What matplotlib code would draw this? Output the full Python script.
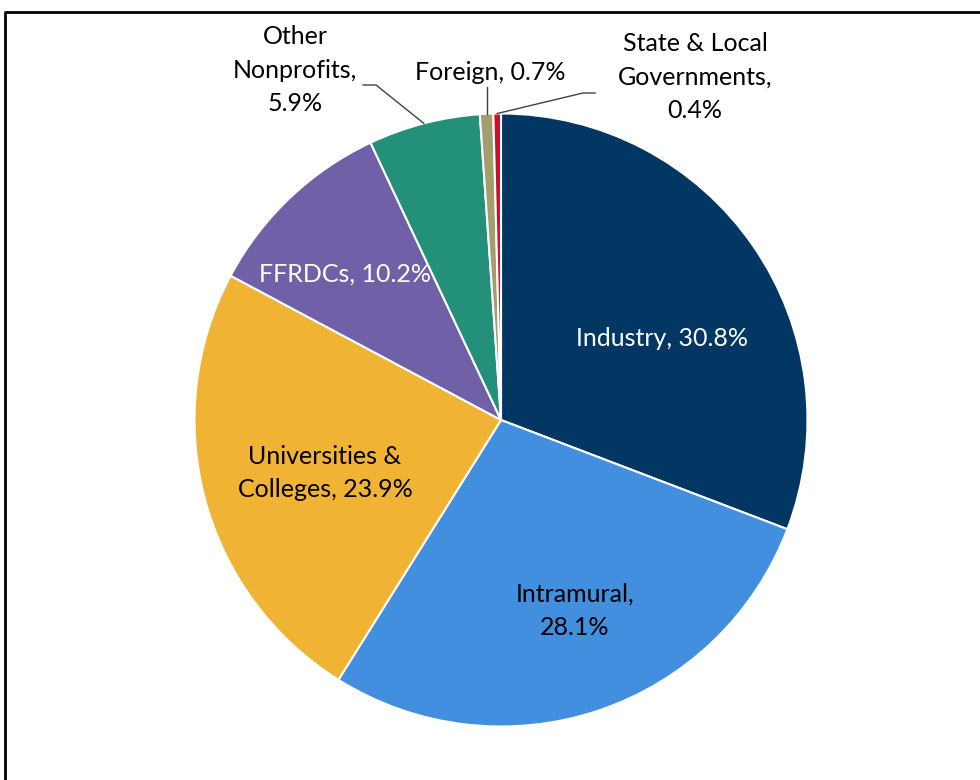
import matplotlib.pyplot as plt
import numpy as np

labels = ['Industry', 'Intramural', 'Universities & Colleges', 'FFRDCs',
          'Other Nonprofits', 'Foreign', 'State & Local Governments']
shares = [30.8, 28.1, 23.9, 10.2, 5.9, 0.7, 0.4]
colors = ['#023764', '#418FDE', '#F0B334', '#7060A8', '#23907A', '#A39E6E', '#C8102E']

plt.rcParams['font.family'] = ['Lato', 'DejaVu Sans']

fig = plt.figure(figsize=(9.8, 7.8), dpi=100)
ax = fig.add_axes([0, 0, 1, 1])

cx, cy, r = 501, 360, 306.5
ax.pie(shares, colors=colors, startangle=90, counterclock=False,
       center=(cx, cy), radius=r, frame=True,
       wedgeprops=dict(edgecolor='white', linewidth=1.5))
ax.set_xlim(0, 980)
ax.set_ylim(0, 780)
ax.set_aspect('equal')
ax.axis('off')

fs = 18
ls = 1.55
ax.text(662, 780 - 338, 'Industry, 30.8%', color='white', fontsize=fs, ha='center', va='center')
ax.text(575, 780 - 611, 'Intramural,\n28.1%', color='black', fontsize=fs, ha='center', va='center',
        linespacing=ls)
ax.text(325, 780 - 473, 'Universities &\nColleges, 23.9%', color='black', fontsize=fs, ha='center',
        va='center', linespacing=ls)
ax.text(345, 780 - 274, 'FFRDCs, 10.2%', color='white', fontsize=fs, ha='center', va='center')
ax.text(295, 780 - 70, 'Other\nNonprofits,\n5.9%', color='black', fontsize=fs, ha='center',
        va='center', linespacing=ls)
ax.text(490, 780 - 72, 'Foreign, 0.7%', color='black', fontsize=fs, ha='center', va='center')
ax.text(695, 780 - 77, 'State & Local\nGovernments,\n0.4%', color='black', fontsize=fs, ha='center',
        va='center', linespacing=ls)

# leader lines from mid-angle of the small wedges
cum = np.cumsum([0] + shares)
def edge_point(i):
    mid = (cum[i] + cum[i + 1]) / 2
    ang = np.deg2rad(90 - mid / 100 * 360)
    return cx + r * np.cos(ang), cy + r * np.sin(ang)

x0, y0 = edge_point(4)
ax.plot([x0, 376, 363], [y0, 780 - 85, 780 - 85], color='#404040', lw=1)
x0, y0 = edge_point(5)
ax.plot([x0, x0], [y0, 780 - 87], color='#404040', lw=1)
x0, y0 = edge_point(6)
ax.plot([x0, 583, 595], [y0, 780 - 93, 780 - 93], color='#404040', lw=1)

# outer frame (only left and top visible)
ax.plot([5, 5, 985], [-5, 780 - 12, 780 - 12], color='black', lw=2, clip_on=False)

fig.savefig('out.png', dpi=100)
